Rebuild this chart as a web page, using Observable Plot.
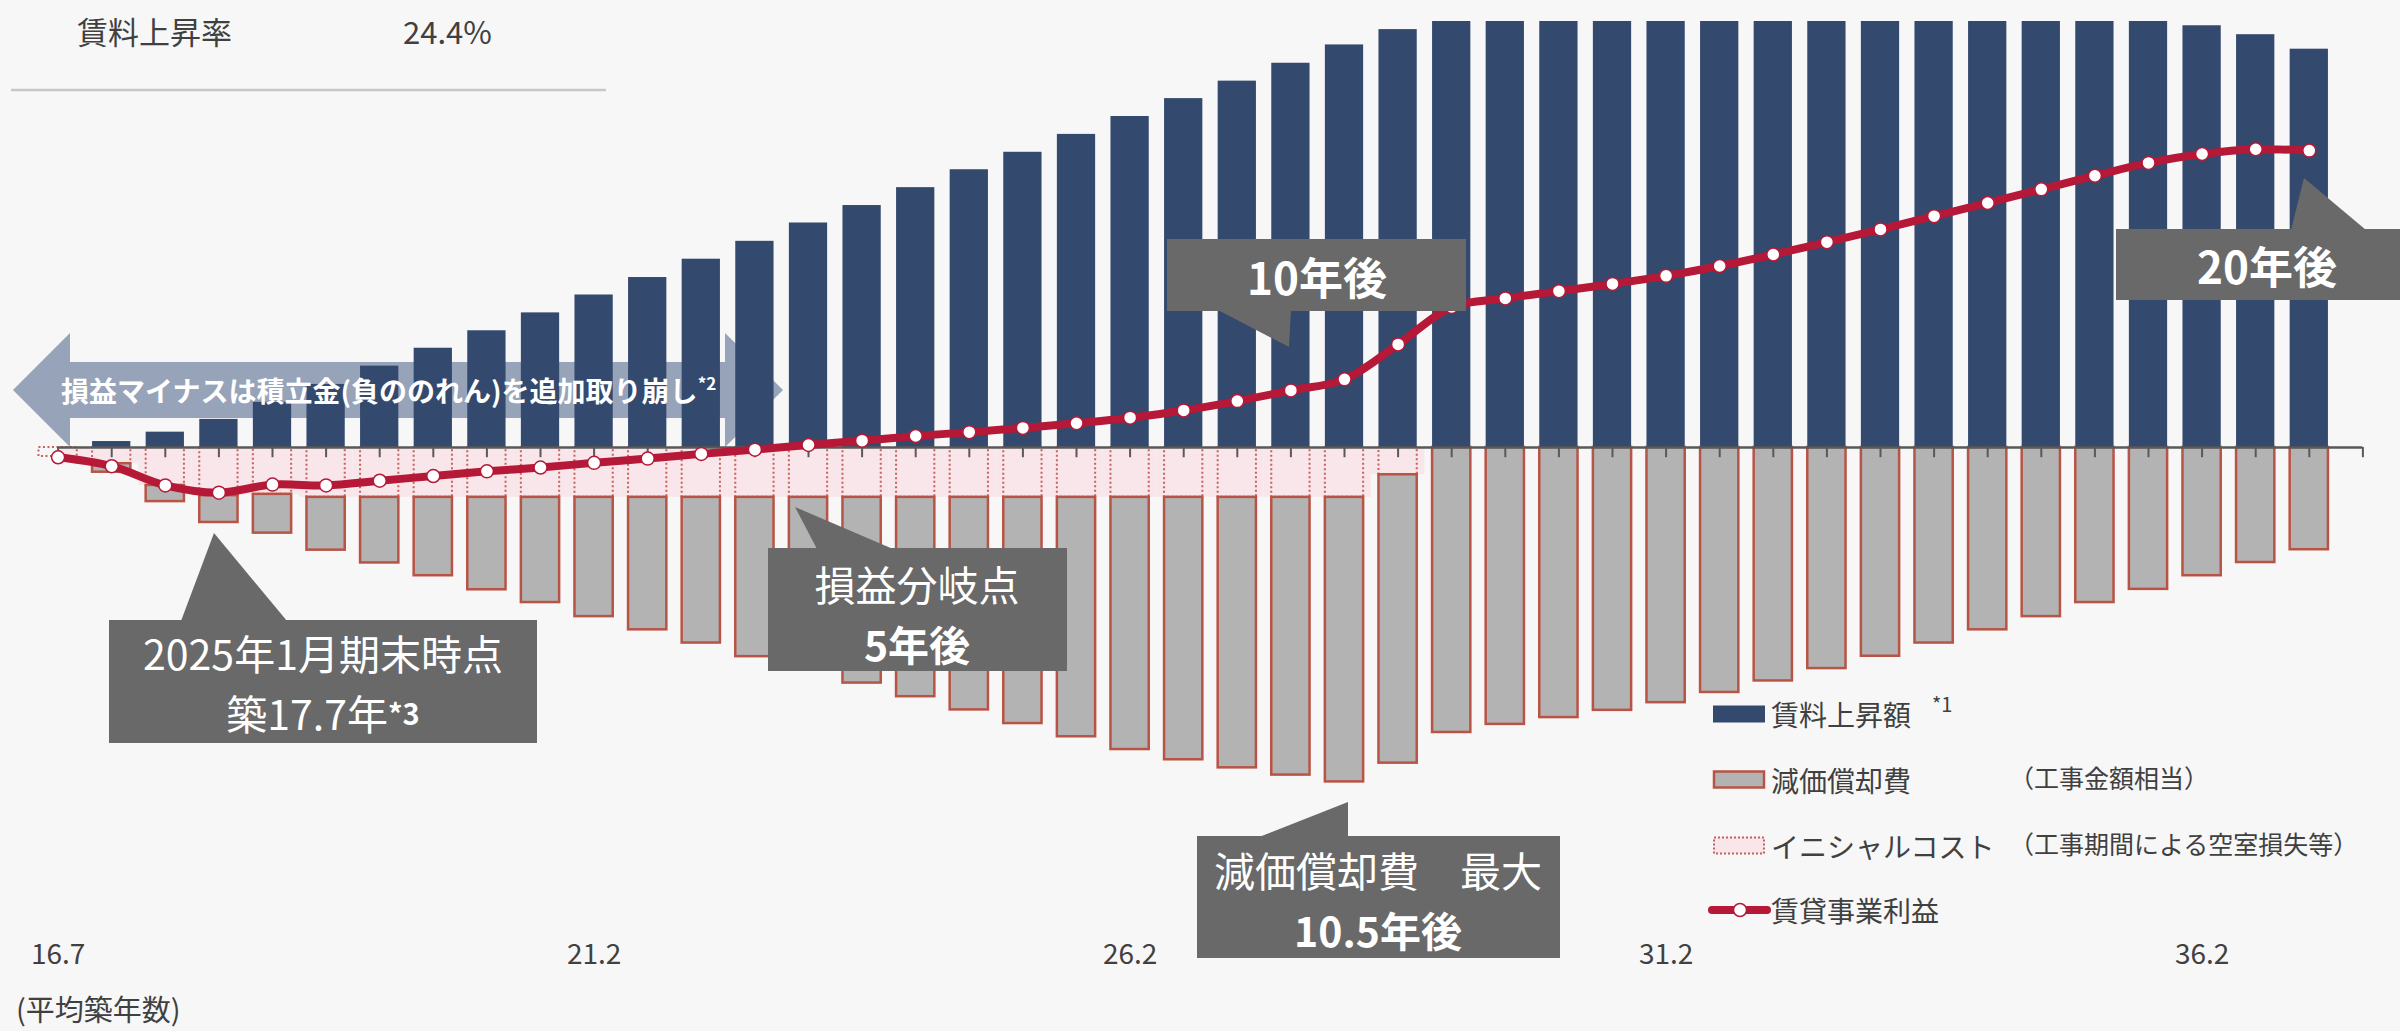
<!DOCTYPE html>
<html>
<head>
<meta charset="utf-8">
<script src="https://cdn.jsdelivr.net/npm/d3@7"></script>
<script src="https://cdn.jsdelivr.net/npm/@observablehq/plot@0.6"></script>
<style>
  html, body { margin: 0; padding: 0; background: #f7f7f7; }
  #wrap { position: relative; width: 2400px; height: 1031px; overflow: hidden; background: #f7f7f7; }
  #wrap > svg { position: absolute; left: 0; top: 0; }
</style>
</head>
<body>
<div id="wrap"></div>
<script>
// ---------------- data ----------------
// half-year steps of average building age
const steps = d3.range(43);
// 賃料上昇額 (rent increase)
const rentIncrease = [0, 1.4, 3.6, 6.6, 10.6, 14.8, 19.1, 23.3, 27.4, 31.6, 35.8, 39.9, 44.2, 48.4, 52.7, 56.8, 61.0, 65.2, 69.3, 73.5, 77.7, 81.9, 86.0, 90.2, 94.5, 98.1, 100, 100, 100, 100, 100, 100, 100, 100, 100, 100, 100, 100, 100, 100, 99.0, 96.9, 93.5];
// イニシャルコスト (initial cost, shown below zero)
const initialCost = [2.1, 3.8, 8.9, 11.3, 11.0, 11.7, 11.7, 11.7, 11.7, 11.7, 11.7, 11.7, 11.7, 11.7, 11.7, 11.7, 11.7, 11.7, 11.7, 11.7, 11.7, 11.7, 11.7, 11.7, 11.7, 6.4, 0, 0, 0, 0, 0, 0, 0, 0, 0, 0, 0, 0, 0, 0, 0, 0, 0];
// 減価償却費 (depreciation, shown below zero under the initial cost)
const depreciation = [0, 2.0, 3.8, 6.3, 9.1, 12.4, 15.4, 18.4, 21.7, 24.7, 28.0, 31.1, 34.2, 37.4, 40.5, 43.6, 46.8, 49.9, 53.1, 56.2, 59.2, 61.6, 63.5, 65.2, 66.8, 67.7, 66.9, 65.0, 63.4, 61.7, 59.9, 57.5, 54.8, 51.9, 49.0, 45.9, 42.8, 39.7, 36.4, 33.3, 30.1, 27.0, 24.0];
// 賃貸事業利益 (rental business profit)
const rentalProfit = [-2.3, -4.4, -8.9, -10.6, -8.7, -8.9, -7.8, -6.7, -5.6, -4.7, -3.6, -2.6, -1.5, -0.5, 0.6, 1.6, 2.7, 3.6, 4.6, 5.7, 7.0, 8.7, 10.9, 13.4, 16.0, 24.2, 33.0, 35.0, 36.7, 38.4, 40.3, 42.6, 45.3, 48.2, 51.2, 54.3, 57.4, 60.6, 63.8, 66.8, 68.9, 70.0, 69.7];
// x tick labels (平均築年数)
const tickIndex = [0, 10, 20, 30, 40];
const tickLabels = ["16.7", "21.2", "26.2", "31.2", "36.2"];
const axisTickSteps = d3.range(44);

// legend / annotation texts
const legendItems = ["賃料上昇額", "減価償却費", "イニシャルコスト", "賃貸事業利益"];
const legendNotes = ["", "（工事金額相当）", "（工事期間による空室損失等）", ""];

// ---------------- styling ----------------
const FONT = '"Noto Sans CJK JP", "Noto Sans", sans-serif';
const C = {
  navy: "#34496e", gray: "#b3b3b3", grayStroke: "#b85446",
  pink: "#f9e6ea", pinkStroke: "#c8605c", red: "#b61837",
  callout: "#696969", arrow: "#96a3b8", text: "#404040", axis: "#595959"
};
const HALF = 0.357; // half bar width in steps

const rows = steps.map(i => ({
  i, rent: rentIncrease[i], init: initialCost[i], dep: depreciation[i], profit: rentalProfit[i]
}));

// big double arrow behind the bars (decoration)
function arrowShape() {
  const pts = [[13,390],[70,333],[70,362],[725,362],[725,333],[783,390],[725,447],[725,418],[70,418],[70,447]];
  return d3.create("svg:polygon").attr("points", pts.map(p => p.join(",")).join(" ")).attr("fill", C.arrow).node();
}

const chart = Plot.plot({
  width: 2400, height: 1031,
  marginTop: 21, marginBottom: 158, marginLeft: 57.6, marginRight: 37.6,
  x: {domain: [0, 43], axis: null},
  y: {domain: [-100, 100], axis: null},
  style: {background: "transparent", fontFamily: FONT, color: C.text, overflow: "visible"},
  marks: [
    arrowShape,
    // initial cost fill (continuous band)
    Plot.rect(rows.filter(d => d.init > 0), {
      x1: d => Math.max(0, d.i - 0.5), x2: d => d.i + 0.5, y1: 0, y2: d => -d.init, fill: C.pink
    }),
    // initial cost dotted outlines
    Plot.rect(rows.filter(d => d.init > 0), {
      x1: d => d.i - HALF, x2: d => d.i + HALF, y1: 0, y2: d => -d.init,
      fill: "none", stroke: C.pinkStroke, strokeWidth: 2, strokeDasharray: "2,2.5"
    }),
    // depreciation bars
    Plot.rect(rows.filter(d => d.dep > 0), {
      x1: d => d.i - HALF, x2: d => d.i + HALF, y1: d => -d.init, y2: d => -(d.init + d.dep),
      fill: C.gray, stroke: C.grayStroke, strokeWidth: 2.5
    }),
    // rent increase bars
    Plot.rect(rows.filter(d => d.rent > 0), {
      x1: d => d.i - HALF, x2: d => d.i + HALF, y1: 0, y2: "rent", fill: C.navy
    }),
    Plot.ruleY([0], {stroke: C.axis, strokeWidth: 2.5}),
    Plot.ruleX(axisTickSteps, {x: d => d, y1: 0, y2: -2.4, stroke: C.axis, strokeWidth: 2}),
    Plot.line(rows, {x: "i", y: "profit", stroke: C.red, strokeWidth: 8, curve: "catmull-rom"}),
    Plot.dot(rows, {x: "i", y: "profit", r: 6.5, fill: "white", stroke: C.red, strokeWidth: 1.5}),
    Plot.axisX({
      ticks: tickIndex, tickFormat: d => tickLabels[tickIndex.indexOf(d)],
      tickSize: 0, tickPadding: 71, fontSize: 28, anchor: "bottom", label: null
    })
  ]
});
document.getElementById("wrap").appendChild(chart);

// ---------------- overlay: texts, callouts, legend ----------------
const ov = d3.select("#wrap").append("svg")
  .attr("width", 2400).attr("height", 1031)
  .style("font-family", FONT);

// top-left
ov.append("text").attr("x", 77).attr("y", 30).attr("dominant-baseline", "central")
  .attr("font-size", 31).attr("fill", C.text).text("賃料上昇率");
ov.append("text").attr("x", 403).attr("y", 30).attr("dominant-baseline", "central")
  .attr("font-size", 31).attr("fill", C.text).text("24.4%");
ov.append("line").attr("x1", 11).attr("x2", 606).attr("y1", 90).attr("y2", 90)
  .attr("stroke", "#c8c8c8").attr("stroke-width", 2.5);

// arrow text
const at = ov.append("text").attr("x", 61).attr("y", 390).attr("dominant-baseline", "central")
  .attr("font-size", 28).attr("font-weight", "bold").attr("fill", "white");
at.append("tspan").text("損益マイナスは積立金(負ののれん)を追加取り崩し");
at.append("tspan").attr("font-size", 17).attr("dy", -8).text("*2");

// callouts
const callouts = [
  {box: [109, 620, 537, 743], ptr: [[181, 621], [214, 533], [287, 621]], cx: 323,
   lines: [{y: 652, parts: [{t: "2025年1月期末時点", s: 41}]}, {y: 712, parts: [{t: "築17.7年", s: 41}, {t: "*3", s: 29, w: "bold"}]}]},
  {box: [768, 548, 1067, 671], ptr: [[817, 549], [795, 507], [893, 549]], cx: 917,
   lines: [{y: 583, parts: [{t: "損益分岐点", s: 41}]}, {y: 643, parts: [{t: "5年後", s: 41, w: "bold"}]}]},
  {box: [1167, 239, 1466, 311], ptr: [[1218, 310], [1289, 347], [1291, 310]], cx: 1317,
   lines: [{y: 276, parts: [{t: "10年後", s: 44, w: "bold"}]}]},
  {box: [1197, 836, 1560, 958], ptr: [[1259, 837], [1348, 802], [1348, 837]], cx: 1378,
   lines: [{y: 869, parts: [{t: "減価償却費　最大", s: 41}]}, {y: 929, parts: [{t: "10.5年後", s: 41, w: "bold"}]}]},
  {box: [2116, 229, 2420, 300], ptr: [[2291, 230], [2304, 178], [2366, 230]], cx: 2267,
   lines: [{y: 265, parts: [{t: "20年後", s: 44, w: "bold"}]}]}
];
for (const c of callouts) {
  const g = ov.append("g");
  g.append("rect").attr("x", c.box[0]).attr("y", c.box[1])
    .attr("width", c.box[2] - c.box[0]).attr("height", c.box[3] - c.box[1]).attr("fill", C.callout);
  g.append("polygon").attr("points", c.ptr.map(p => p.join(",")).join(" ")).attr("fill", C.callout);
  for (const ln of c.lines) {
    const t = g.append("text").attr("x", c.cx).attr("y", ln.y).attr("text-anchor", "middle")
      .attr("dominant-baseline", "central").attr("fill", "white");
    for (const p of ln.parts) {
      t.append("tspan").attr("font-size", p.s).attr("font-weight", p.w || "normal").text(p.t);
    }
  }
}

// legend
const lg = ov.append("g");
const ly = [714, 780, 846, 910];
lg.append("rect").attr("x", 1713).attr("y", ly[0] - 8.5).attr("width", 52).attr("height", 17).attr("fill", C.navy);
lg.append("rect").attr("x", 1714).attr("y", ly[1] - 8.5).attr("width", 50).attr("height", 16)
  .attr("fill", C.gray).attr("stroke", C.grayStroke).attr("stroke-width", 2.5);
lg.append("rect").attr("x", 1714).attr("y", ly[2] - 8.5).attr("width", 50).attr("height", 16)
  .attr("fill", C.pink).attr("stroke", C.pinkStroke).attr("stroke-width", 2).attr("stroke-dasharray", "2,2");
lg.append("line").attr("x1", 1712).attr("x2", 1767).attr("y1", ly[3]).attr("y2", ly[3])
  .attr("stroke", C.red).attr("stroke-width", 8).attr("stroke-linecap", "round");
lg.append("circle").attr("cx", 1740).attr("cy", ly[3]).attr("r", 6.5)
  .attr("fill", "white").attr("stroke", C.red).attr("stroke-width", 1.5);
legendItems.forEach((t, k) => {
  lg.append("text").attr("x", 1771).attr("y", ly[k]).attr("dominant-baseline", "central")
    .attr("font-size", 28).attr("fill", C.text).text(t);
  if (legendNotes[k]) {
    lg.append("text").attr("x", 2009).attr("y", ly[k] - 3).attr("dominant-baseline", "central")
      .attr("font-size", 25).attr("fill", C.text).text(legendNotes[k]);
  }
});
lg.append("text").attr("x", 1932).attr("y", 703).attr("dominant-baseline", "central")
  .attr("font-size", 20).attr("fill", C.text).text("*1");

// x caption
ov.append("text").attr("x", 16).attr("y", 1008).attr("dominant-baseline", "central")
  .attr("font-size", 29).attr("fill", C.text).text("(平均築年数)");
</script>
</body>
</html>
